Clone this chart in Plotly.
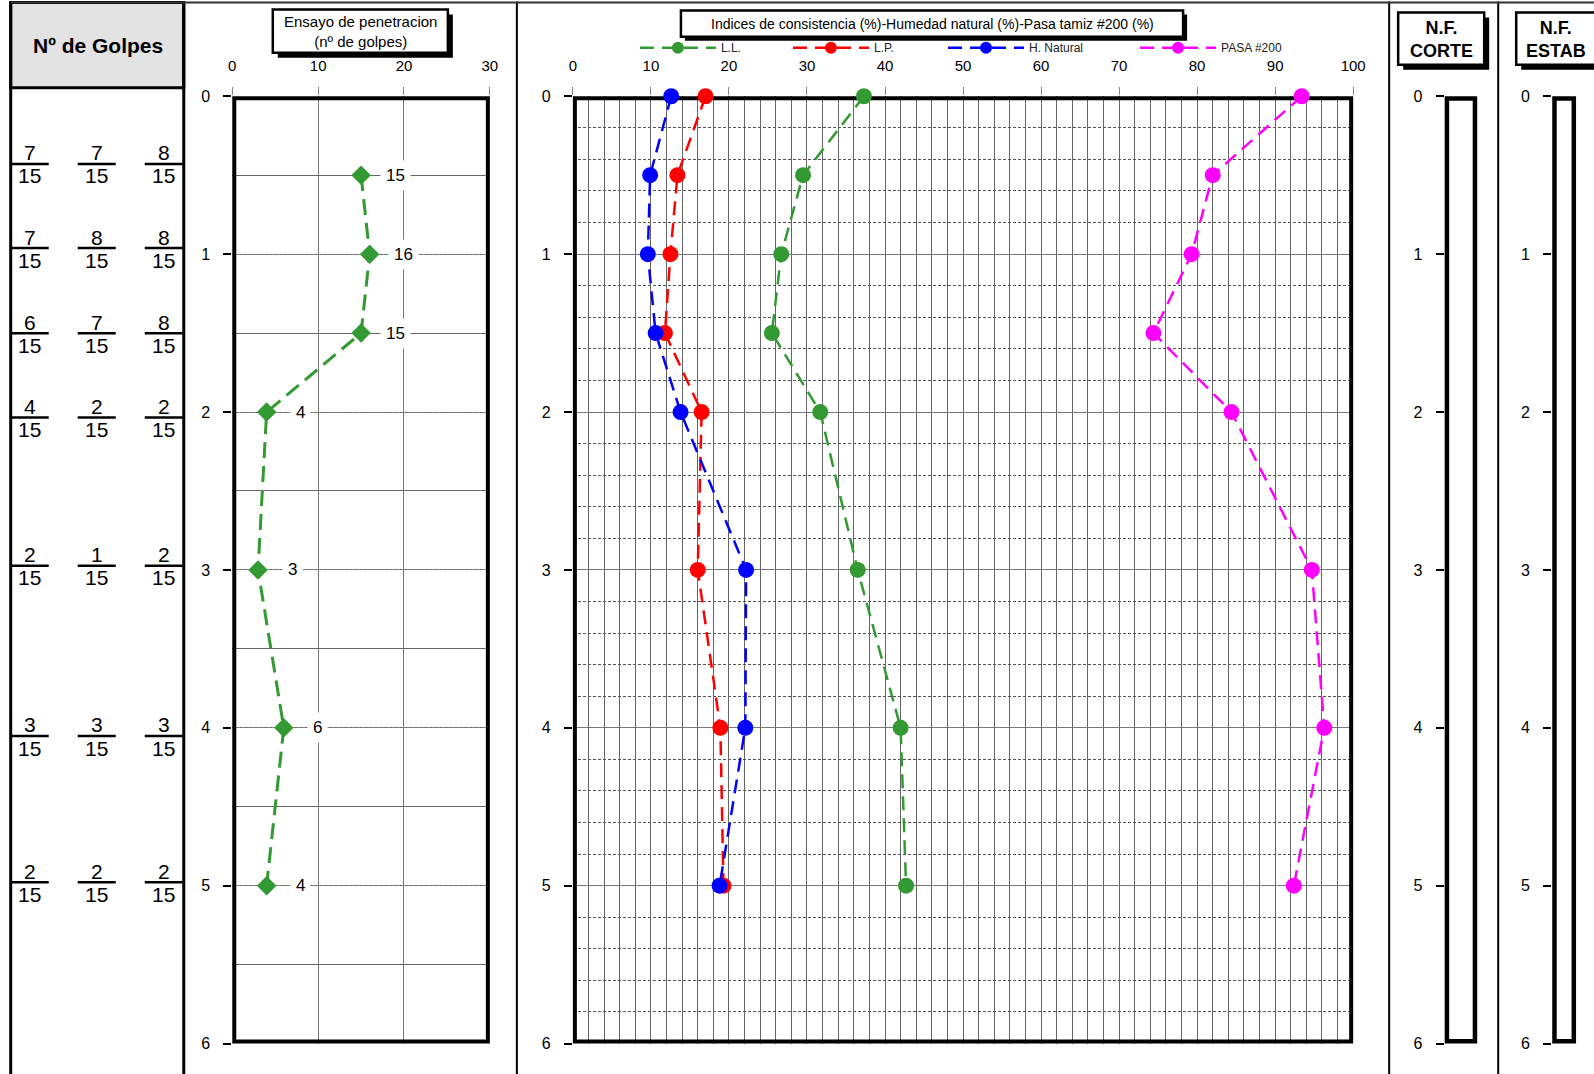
import plotly.graph_objects as go

# target page size; the figure fills the whole window (fixed-position div, 100vw x 100vh)
W, H = 1594, 1074
# measured capture transform of this pipeline (photo = A + B * page), compensated below
AX, BX = 3.3, 0.989
AY, BY = 8.4, 0.9823

# ---------------- DATA ----------------
pen_depth = [0.5, 1.0, 1.5, 2.0, 3.0, 4.0, 5.0]
pen_blows = [15, 16, 15, 4, 3, 6, 4]

golpes_num = [[7, 7, 8], [7, 8, 8], [6, 7, 8], [4, 2, 2], [2, 1, 2], [3, 3, 3], [2, 2, 2]]
golpes_den = [[15, 15, 15], [15, 15, 15], [15, 15, 15], [15, 15, 15], [15, 15, 15], [15, 15, 15], [15, 15, 15]]

cons_depth = [0.0, 0.5, 1.0, 1.5, 2.0, 3.0, 4.0, 5.0]
ll_vals = [37.3, 29.5, 26.7, 25.5, 31.7, 36.5, 42.0, 42.7]
lp_vals = [17.0, 13.4, 12.5, 11.8, 16.5, 16.0, 18.9, 19.3]
hn_vals = [12.6, 9.9, 9.6, 10.6, 13.8, 22.2, 22.1, 18.8]
pasa_vals = [93.4, 82.0, 79.3, 74.4, 84.4, 94.7, 96.3, 92.4]

pen_ticks = [0, 10, 20, 30]
cons_ticks = [0, 10, 20, 30, 40, 50, 60, 70, 80, 90, 100]
depth_ticks = [0, 1, 2, 3, 4, 5, 6]

# ---------------- LAYOUT HELPERS ----------------
FONT = "Liberation Sans, Arial, sans-serif"


def clamp(v):
    return max(0.0, min(1.0, v))


def px(x):
    return ((x - AX) / BX) / W


def py(y):
    return 1 - ((y - AY) / BY) / H


def dom(a, b):
    return [clamp(a), clamp(b)]


Y_TOP, Y_BOT = 96.5, 1042
ydom = dom(py(Y_BOT), py(Y_TOP))

fig = go.Figure()

# penetration trace
fig.add_trace(go.Scatter(
    x=pen_blows, y=pen_depth, xaxis="x", yaxis="y", mode="lines+markers",
    line=dict(color="#339933", width=3, dash="16px,8px"),
    marker=dict(symbol="diamond", size=15, color="#339933"),
    showlegend=False, cliponaxis=False, hoverinfo="skip"))

series = [
    ("L.L.", ll_vals, "#339933", "legend"),
    ("L.P.", lp_vals, "#ff0000", "legend2"),
    ("H. Natural", hn_vals, "#0000ff", "legend3"),
    ("PASA #200", pasa_vals, "#ff00ff", "legend4"),
]
for name, vals, col, lg in series:
    fig.add_trace(go.Scatter(
        x=vals, y=cons_depth, xaxis="x2", yaxis="y2", mode="lines+markers",
        name=name, showlegend=False,
        line=dict(color=col, width=2.5, dash="14px,8px"),
        marker=dict(symbol="circle", size=16, color=col),
        cliponaxis=False, hoverinfo="skip"))
# legend entries (smaller symbols, as in the original legend)
for name, vals, col, lg in series:
    fig.add_trace(go.Scatter(
        x=[None], y=[None], xaxis="x2", yaxis="y2", mode="lines+markers",
        name=name, legend=lg, showlegend=True,
        line=dict(color=col, width=2.5, dash="14px,8px"),
        marker=dict(symbol="circle", size=12, color=col), hoverinfo="skip"))

xtickfont = dict(family=FONT, size=15, color="black")
ytickfont = dict(family=FONT, size=16, color="black")

common_y = dict(range=[6, 0], tickvals=depth_ticks, ticks="outside", ticklen=8,
                tickwidth=2, tickcolor="black", zeroline=False, tickfont=ytickfont,
                ticklabelstandoff=10, fixedrange=True)

layout = dict(
    autosize=True, margin=dict(l=0, r=0, t=0, b=0, pad=0),
    paper_bgcolor="white", plot_bgcolor="white",
    font=dict(family=FONT, color="black"),
    xaxis=dict(domain=dom(px(231.5), px(489)), range=[0, 30], side="top", tickvals=pen_ticks,
               showgrid=True, gridcolor="#777", gridwidth=1, zeroline=False,
               ticks="outside", ticklen=8, tickcolor="#888", tickfont=xtickfont,
               ticklabelstandoff=10, anchor="y", fixedrange=True),
    yaxis=dict(domain=ydom, anchor="x", dtick=1, showgrid=True, gridcolor="#888",
               griddash="3px,2px", gridwidth=1,
               minor=dict(dtick=0.5, tick0=0, showgrid=True, gridcolor="#666",
                          griddash="solid", gridwidth=1, ticks=""),
               **common_y),
    xaxis2=dict(domain=dom(px(572), px(1352)), range=[0, 100], side="top", tickvals=cons_ticks,
                showgrid=True, gridcolor="#666", gridwidth=1, zeroline=False,
                minor=dict(dtick=2, tick0=0, showgrid=True, gridcolor="#666", gridwidth=1, ticks=""),
                ticks="outside", ticklen=8, tickcolor="#888", tickfont=xtickfont,
                ticklabelstandoff=10, anchor="y2", fixedrange=True),
    yaxis2=dict(domain=ydom, anchor="x2", dtick=1, showgrid=True, gridcolor="#777",
                gridwidth=1.2,
                minor=dict(dtick=0.2, tick0=0, showgrid=True, gridcolor="#555",
                           griddash="3px,2px", gridwidth=1, ticks=""),
                **common_y),
    xaxis3=dict(domain=dom(px(1443.5), px(1476)), range=[0, 1], visible=False, anchor="y3", fixedrange=True),
    yaxis3=dict(domain=ydom, anchor="x3", showgrid=False, **common_y),
    xaxis4=dict(domain=[clamp(px(1551)), min(px(1581), 1 - 5.0 / W)], range=[0, 1], visible=False,
                anchor="y4", fixedrange=True),
    yaxis4=dict(domain=ydom, anchor="x4", showgrid=False, **common_y),
)

leg_x = [634, 787, 942, 1134]
for i, lx in enumerate(leg_x):
    key = "legend" if i == 0 else "legend%d" % (i + 1)
    layout[key] = dict(x=px(lx), y=py(48), xanchor="left", yanchor="middle",
                       orientation="h", itemwidth=76, bgcolor="rgba(0,0,0,0)",
                       borderwidth=0, font=dict(family=FONT, size=12, color="#222"),
                       itemclick=False, itemdoubleclick=False)

fig.update_layout(**layout)

shapes = []


def prect(x0, y0, x1, y1, fill="white", lc="black", lw=2.5):
    shapes.append(dict(type="rect", xref="paper", yref="paper",
                       x0=px(x0), x1=px(x1), y0=py(y1), y1=py(y0),
                       fillcolor=fill, line=dict(color=lc, width=lw)))


def pline(x0, y0, x1, y1, lc="black", lw=2):
    shapes.append(dict(type="line", xref="paper", yref="paper",
                       x0=px(x0), x1=px(x1), y0=py(y0), y1=py(y1),
                       line=dict(color=lc, width=lw)))


# frame
prect(10, 3, 183, 88, fill="#e3e3e3", lw=3)
pline(10, 2, 10, 1090, lw=3)
pline(183, 2, 183, 1090, lw=3)
pline(516, 2, 516, 1090, lw=2)
pline(1388, 2, 1388, 1090, lw=2)
pline(1497, 2, 1497, 1090, lw=2)
pline(10, 3, 1620, 3, lc="#333", lw=2)

# title boxes with shadow
prect(277, 15, 452, 58, fill="black", lw=0)
prect(272, 10, 447, 53, lw=2.5)
prect(684, 15, 1186, 41, fill="black", lw=0)
prect(680, 11, 1182, 37, lw=2.5)
prect(1402, 18, 1488, 70, fill="black", lw=0)
prect(1397, 13, 1483, 65, lw=2.5)
prect(1520, 18, 1620, 70, fill="black", lw=0)
prect(1515, 13, 1615, 65, lw=2.5)

# plot borders (axis coordinates)
for xr, yr, xmax, lw in [("x", "y", 30, 8), ("x2", "y2", 100, 8), ("x3", "y3", 1, 9), ("x4", "y4", 1, 9)]:
    shapes.append(dict(type="rect", xref=xr, yref=yr, x0=0, x1=xmax, y0=0, y1=6,
                       line=dict(color="black", width=lw), layer="between"))

# fraction bars
col_x = [29, 96, 163]
row_y = [164, 248, 333, 417, 565, 735, 881]
annotations = []


def ptext(x, y, text, size, bold=False):
    annotations.append(dict(xref="paper", yref="paper", x=px(x), y=py(y),
                            text=("<b>%s</b>" % text) if bold else text, showarrow=False,
                            font=dict(family=FONT, size=size, color="black"),
                            xanchor="center", yanchor="middle"))


for r, by in enumerate(row_y):
    for c, cx in enumerate(col_x):
        pline(cx - 19, by, cx + 19, by, lw=2.5)
        ptext(cx, by - 11, str(golpes_num[r][c]), 21)
        ptext(cx, by + 12, str(golpes_den[r][c]), 21)

# penetration data labels
for d, v in zip(pen_depth, pen_blows):
    annotations.append(dict(xref="x", yref="y", x=v, y=d, xshift=34, text=str(v),
                            showarrow=False, bgcolor="white", borderpad=5,
                            font=dict(family=FONT, size=17, color="black"),
                            xanchor="center", yanchor="middle"))

# header texts
ptext(97, 46, "Nº de Golpes", 21, bold=True)
ptext(359.5, 32, "Ensayo de penetracion<br>(nº de golpes)", 15)
ptext(931, 24, "Indices de consistencia (%)-Humedad natural (%)-Pasa tamiz #200 (%)", 14)
ptext(1440, 40, "N.F.<br>CORTE", 18, bold=True)
ptext(1555, 40, "N.F.<br>ESTAB", 18, bold=True)

fig.update_layout(shapes=shapes, annotations=annotations)

fig.write_html("out.html", config={"displayModeBar": False},
               default_width="100vw;position:fixed;left:0;top:0;margin:0",
               default_height="100vh")
